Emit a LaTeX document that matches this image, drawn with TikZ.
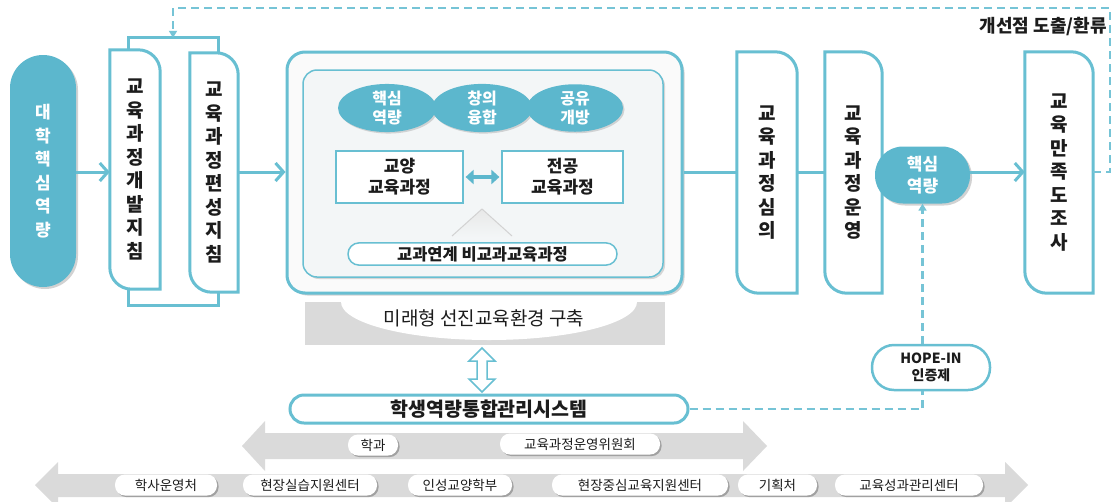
\documentclass[tikz,border=0pt]{standalone}
\usepackage{fontspec}
\setmainfont{Noto Sans CJK KR}
\usetikzlibrary{arrows.meta,shadows,calc,backgrounds,shapes.geometric}
\definecolor{tealF}{RGB}{92,183,205}
\definecolor{tealL}{RGB}{104,191,210}
\definecolor{tealD}{RGB}{118,196,214}
\definecolor{grayA}{RGB}{218,218,218}
\definecolor{txt}{RGB}{28,28,28}
\definecolor{boxfill}{RGB}{243,246,247}
\newcommand{\dshape}[1]{%
 \path[draw=tealL, line width=3pt, fill=white] (#1.north west) -- ([xshift=-22pt]#1.north east)
  .. controls ([xshift=-9.8pt]#1.north east) and ([yshift=-9.8pt]#1.north east) .. ([yshift=-22pt]#1.north east)
  -- (#1.south east) -- ([xshift=22pt]#1.south west)
  .. controls ([xshift=9.8pt]#1.south west) and ([yshift=9.8pt]#1.south west) .. ([yshift=22pt]#1.south west) -- cycle;}
\tikzset{
 vtext/.style={align=center, font=\bfseries\fontsize{19}{23.5}\selectfont, text=txt, inner sep=0pt},
 conn/.style={draw=tealL, line width=3pt},
 chev/.style={-{Straight Barb[length=8pt,width=18pt]}},
 dline/.style={draw=tealD, line width=2.5pt, dash pattern=on 8pt off 5pt},
 dtip/.style={-{Triangle[length=7pt,width=8pt]}},
 tagpill/.style={fill=white, rounded corners=10pt, minimum height=21pt, inner sep=0pt,
   font=\fontsize{13.5}{15}\selectfont, text=txt,
   drop shadow={shadow xshift=1.6pt, shadow yshift=-1.6pt, opacity=0.55, fill=black!55}},
 blob/.style={fill=tealF, text=white, align=center, inner sep=0pt},
 oval/.style={blob, ellipse, minimum height=47pt, font=\bfseries\fontsize{16}{19}\selectfont,
  drop shadow={shadow xshift=1.5pt, shadow yshift=-1.5pt, opacity=0.3}},
}
\begin{document}
\begin{tikzpicture}[x=1pt, y=-1pt]
\useasboundingbox (0,0) rectangle (1115,501);

% bottom gray arrows
\fill[grayA] (242,446) -- (265,421) -- (265,433) -- (743,433) -- (743,421) -- (767,446) -- (743,471) -- (743,459) -- (265,459) -- (265,471) -- cycle;
\fill[grayA] (35,485) -- (58,462) -- (58,474) -- (1005,474) -- (1005,462) -- (1028,485) -- (1005,508) -- (1005,497) -- (58,497) -- (58,508) -- cycle;

% left pill
\node[blob, rounded corners=33pt, minimum width=66pt, minimum height=232pt,
  font=\bfseries\fontsize{17}{23.5}\selectfont,
  drop shadow={shadow xshift=2pt, shadow yshift=-2pt, opacity=0.35}] (pl) at (43,171) {대\\학\\핵\\심\\역\\량};

% bracket and guideline boxes
\node[minimum width=89pt, minimum height=267pt, inner sep=0pt] (brk) at (173.5,171.5) {};
\node[vtext, minimum width=50pt, minimum height=239pt] (b1) at (135,169.5) {교\\육\\과\\정\\개\\발\\지\\침};
\node[vtext, minimum width=48pt, minimum height=239pt] (b2) at (214,172.5) {교\\육\\과\\정\\편\\성\\지\\침};
\node[vtext, minimum width=60pt, minimum height=241pt] (b3) at (767,172.5) {교\\육\\과\\정\\심\\의};
\node[vtext, minimum width=57pt, minimum height=241pt] (b4) at (853.5,172.5) {교\\육\\과\\정\\운\\영};
\node[vtext, minimum width=68pt, minimum height=241pt] (b5) at (1059,172.5) {교\\육\\만\\족\\도\\조\\사};
\begin{scope}[on background layer]
 \fill[white] (0,0) rectangle (1115,501);
 \draw[draw=tealL, line width=3pt] (brk.north west) rectangle (brk.south east);
 \dshape{b1}
 \dshape{b2}
 \dshape{b3}
 \dshape{b4}
 \dshape{b5}
\end{scope}

% central box
\node[draw=tealL, line width=3pt, fill=white!96!gray, rounded corners=18pt, minimum width=395pt, minimum height=241pt,
  drop shadow={shadow xshift=2.5pt, shadow yshift=-2.5pt, opacity=0.35}] (outer) at (484.5,172.5) {};
\node[draw=tealL, line width=1.5pt, fill=boxfill, rounded corners=14pt, minimum width=360pt, minimum height=207pt,
  drop shadow={shadow xshift=2pt, shadow yshift=-2pt, opacity=0.3}] (inner) at (483,173.5) {};
\node[oval, minimum width=98pt] (e1) at (387,108) {핵심\\역량};
\node[oval, minimum width=100pt] (e2) at (482,108) {창의\\융합};
\node[oval, minimum width=96pt] (e3) at (575,108) {공유\\개방};
\node[draw=tealL, line width=1.2pt, fill=white, minimum width=127pt, minimum height=52pt, align=center, text=txt,
  font=\bfseries\fontsize{17}{21}\selectfont] (gy) at (399.5,177) {교양\\교육과정};
\node[draw=tealL, line width=1.2pt, fill=white, minimum width=121pt, minimum height=52pt, align=center, text=txt,
  font=\bfseries\fontsize{17}{21}\selectfont] (jg) at (562.5,177) {전공\\교육과정};
\draw[tealF, line width=4pt, shorten <=2pt, shorten >=2pt, {Triangle[length=8pt,width=14pt]}-{Triangle[length=8pt,width=14pt]}] (gy.east) -- (jg.west);
\shade[top color=gray!18, bottom color=boxfill] (482,209) -- (514,237) -- (450,237) -- cycle;
\draw[gray!35, line width=1pt] (452,236) -- (482,209) -- (512,236);
\node[draw=tealL, line width=1.5pt, fill=white, rounded corners=11pt, minimum width=269pt, minimum height=22pt, text=txt,
  font=\bfseries\fontsize{16.5}{18}\selectfont] (bk) at (482.5,254) {교과연계 비교과교육과정};

% gray band
\node[fill=grayA, minimum width=360pt, minimum height=43pt, inner sep=0pt] (band) at (485,323.5) {};
\begin{scope}
 \clip (band.north west) rectangle (band.south east);
 \fill[white] (489,302) ellipse [x radius=148pt, y radius=38pt];
\end{scope}
\node[text=txt, font=\fontsize{19}{21}\selectfont, inner sep=0pt] (bandtxt) at (484,318) {미래형 선진교육환경 구축};

% system pill and hollow double arrow
\node[draw=tealL, line width=3pt, fill=white, rounded corners=14pt, minimum width=398pt, minimum height=28pt, text=txt,
  font=\bfseries\fontsize{19.5}{21}\selectfont] (sys) at (489,409) {학생역량통합관리시스템};
\draw[tealL, line width=1.5pt, fill=white, line join=miter] (482,348) -- (495,361) -- (487,361) -- (487,379) -- (495,379) -- (482,392) -- (469,379) -- (477,379) -- (477,361) -- (469,361) -- cycle;

% right pill and HOPE-IN
\node[blob, rounded corners=28pt, minimum width=95pt, minimum height=57pt, font=\bfseries\fontsize{17}{22}\selectfont,
  drop shadow={shadow xshift=2pt, shadow yshift=-2pt, opacity=0.35}] (pr) at (922.5,175) {핵심\\역량};
\node[draw=tealL, line width=2.5pt, fill=white, rounded corners=22pt, minimum width=118pt, minimum height=45pt, align=center, text=txt,
  font=\bfseries\fontsize{14}{17}\selectfont] (hope) at (931,367.5) {HOPE-IN\\인증제};

% connectors
\draw[conn, chev] (pl.east |- 0,172) -- (b1.west |- 0,172);
\draw[conn, chev] (b2.east |- 0,172) -- (outer.west |- 0,172);
\draw[conn] (outer.east |- 0,172) -- (b3.west |- 0,172);
\draw[conn] (b3.east |- 0,172) -- (b4.west |- 0,172);
\draw[conn, chev] (pr.east |- 0,172) -- (b5.west |- 0,172);
\coordinate (lr) at (1110,8);
\coordinate (ll) at (173,8);
\draw[dline, dtip] (b5.east |- 0,172) -- (lr |- 0,172) -- (lr) -- (ll) -- (ll |- brk.north);
\draw[dline] (sys.east) -| (pr.south |- hope.south);
\draw[dline, dtip] (pr.south |- hope.north) -- (pr.south);
\node[anchor=east, text=txt, font=\bfseries\fontsize{18}{20}\selectfont, inner sep=0pt] (fb) at (1107,27) {개선점 도출/환류};

% tag pills
\node[tagpill, minimum width=50pt] (t1) at (373,445) {학과};
\node[tagpill, minimum width=160pt] (t2) at (580,444) {교육과정운영위원회};
\node[tagpill, minimum width=102pt] (t3) at (166,485) {학사운영처};
\node[tagpill, minimum width=134pt] (t4) at (310,485) {현장실습지원센터};
\node[tagpill, minimum width=104pt] (t5) at (460,485) {인성교양학부};
\node[tagpill, minimum width=176pt] (t6) at (640,485) {현장중심교육지원센터};
\node[tagpill, minimum width=79pt] (t7) at (777.5,485) {기획처};
\node[tagpill, minimum width=148pt] (t8) at (909,485) {교육성과관리센터};
\end{tikzpicture}
\end{document}
